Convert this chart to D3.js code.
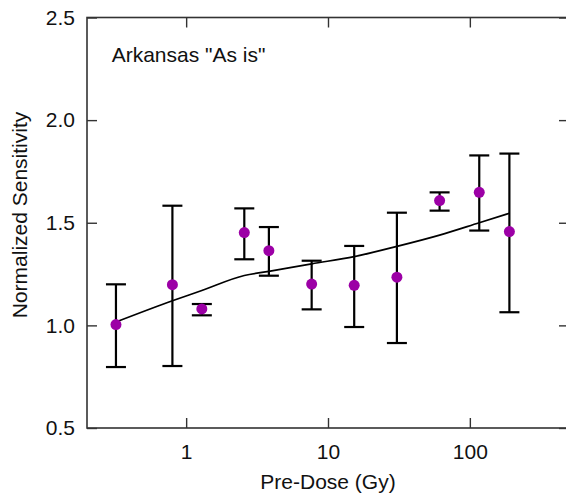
<!DOCTYPE html>
<html>
<head>
<meta charset="utf-8">
<script src="https://cdn.jsdelivr.net/npm/d3@7"></script>
<style>
body { margin: 0; background: #fff; }
text { font-family: "Liberation Sans", Arial, sans-serif; fill: #111; }
</style>
</head>
<body>
<div id="chart-area"></div>
<script>
// data
var doses = [0.32, 0.80, 1.29, 2.57, 3.83, 7.67, 15.3, 30.6, 61.2, 116.5, 190];
var sens = [1.004, 1.198, 1.080, 1.452, 1.364, 1.201, 1.195, 1.235, 1.608, 1.648, 1.457];
var errHi = [1.20, 1.583, 1.104, 1.570, 1.479, 1.315, 1.387, 1.549, 1.648, 1.828, 1.837];
var errLo = [0.797, 0.802, 1.049, 1.322, 1.242, 1.078, 0.992, 0.914, 1.559, 1.462, 1.064];
var fitDose = [0.33, 0.80, 1.29, 2.57, 3.83, 7.67, 15.3, 30.6, 61.2, 116.5, 190];
var fitVal = [1.02, 1.12, 1.17, 1.243, 1.263, 1.30, 1.335, 1.385, 1.44, 1.50, 1.546];
var xTicks = [1, 10, 100];
var yTicks = [0.5, 1.0, 1.5, 2.0, 2.5];

var margin = {top: 17.5, right: 0, bottom: 69, left: 87};
var totalW = 566, totalH = 497;
var width = 482;
var height = totalH - margin.top - margin.bottom;
var fontSize = 21;

var svg = d3.select("#chart-area").append("svg")
	.attr("width", totalW)
	.attr("height", totalH);

var group = svg.append("g")
	.attr("transform", "translate(" + margin.left + "," + margin.top + ")");

var x = d3.scaleLog().domain([0.2, 500]).range([0, width]);
var y = d3.scaleLinear().domain([0.5, 2.5]).range([height, 0]);

var points = doses.map((d, i) => ({dose: d, val: sens[i], hi: errHi[i], lo: errLo[i]}));
var fit = fitDose.map((d, i) => ({dose: d, val: fitVal[i]}));

// frame
group.append("rect")
	.attr("x", 0).attr("y", 0)
	.attr("width", width).attr("height", height)
	.attr("fill", "none")
	.attr("stroke", "#333")
	.attr("stroke-width", 1.6);

// axes with inward ticks
var bottomAxis = d3.axisBottom(x).tickValues(xTicks).tickFormat(d3.format("d")).tickSizeInner(-10).tickSizeOuter(0).tickPadding(15.7);
var gx = group.append("g")
	.attr("transform", "translate(0," + height + ")")
	.call(bottomAxis);
var topAxis = d3.axisTop(x).tickValues(xTicks).tickFormat("").tickSizeInner(-10).tickSizeOuter(0);
var gt = group.append("g").call(topAxis);
var leftAxis = d3.axisLeft(y).tickValues(yTicks).tickFormat(d3.format(".1f")).tickSizeInner(-10).tickSizeOuter(0).tickPadding(12);
var gy = group.append("g").call(leftAxis);
var rightAxis = d3.axisRight(y).tickValues(yTicks).tickFormat("").tickSizeInner(-10).tickSizeOuter(0);
var gr = group.append("g").attr("transform", "translate(" + width + ",0)").call(rightAxis);

[gx, gt, gy, gr].forEach((g) => {
	g.select(".domain").remove();
	g.selectAll(".tick line").attr("stroke", "#333").attr("stroke-width", 1.4);
	g.selectAll("text").attr("font-size", fontSize + "px").attr("fill", "#111")
		.attr("font-family", "'Liberation Sans', Arial, sans-serif");
});

// fitted line
var line = d3.line().x((d) => x(d.dose)).y((d) => y(d.val)).curve(d3.curveMonotoneX);
group.append("path")
	.datum(fit)
	.attr("d", line)
	.attr("fill", "none")
	.attr("stroke", "#000")
	.attr("stroke-width", 1.7);

// error bars
var bars = group.selectAll(".err").data(points).enter().append("g").attr("class", "err");
bars.append("line")
	.attr("x1", (d) => x(d.dose)).attr("x2", (d) => x(d.dose))
	.attr("y1", (d) => y(d.hi)).attr("y2", (d) => y(d.lo))
	.attr("stroke", "#000").attr("stroke-width", 2.2);
bars.append("line")
	.attr("x1", (d) => x(d.dose) - 10).attr("x2", (d) => x(d.dose) + 10)
	.attr("y1", (d) => y(d.hi)).attr("y2", (d) => y(d.hi))
	.attr("stroke", "#000").attr("stroke-width", 2.2);
bars.append("line")
	.attr("x1", (d) => x(d.dose) - 10).attr("x2", (d) => x(d.dose) + 10)
	.attr("y1", (d) => y(d.lo)).attr("y2", (d) => y(d.lo))
	.attr("stroke", "#000").attr("stroke-width", 2.2);

// points
group.selectAll("circle").data(points).enter()
	.append("circle")
	.attr("cx", (d) => x(d.dose))
	.attr("cy", (d) => y(d.val))
	.attr("r", 5.5)
	.attr("fill", "#9c00a6");

// labels
group.append("text")
	.attr("x", 24.7)
	.attr("y", 44.5)
	.attr("font-size", fontSize + "px")
	.text("Arkansas \"As is\"");

svg.append("text")
	.attr("x", 328)
	.attr("y", 489)
	.attr("font-size", fontSize + "px")
	.attr("text-anchor", "middle")
	.text("Pre-Dose (Gy)");

svg.append("text")
	.attr("x", -215)
	.attr("y", 27)
	.attr("font-size", fontSize + "px")
	.attr("text-anchor", "middle")
	.attr("transform", "rotate(-90)")
	.text("Normalized Sensitivity");
</script>
</body>
</html>
